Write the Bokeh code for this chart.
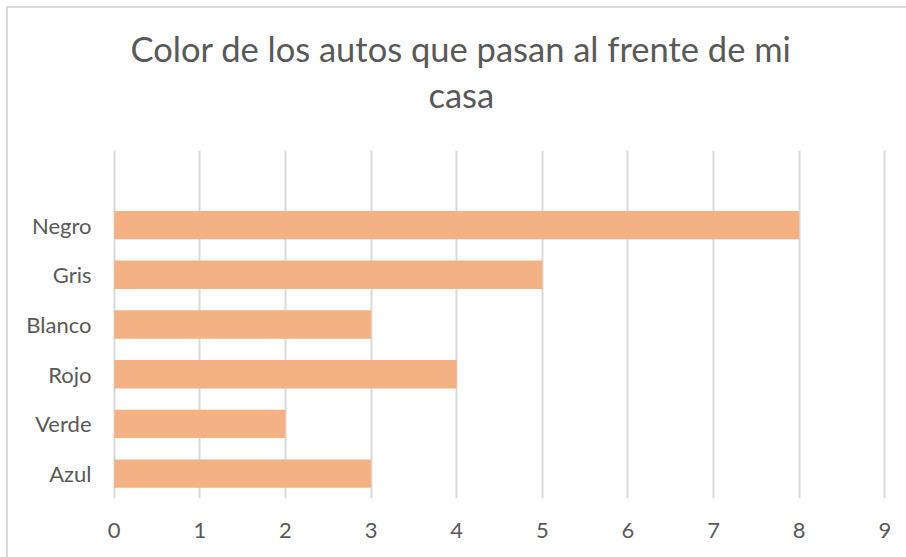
from bokeh.plotting import figure
from bokeh.models import Title, FixedTicker
from bokeh.embed import file_html
from bokeh.resources import INLINE

# Data (bottom to top)
categories = ["Azul", "Verde", "Rojo", "Blanco", "Gris", "Negro"]
values = [3, 2, 4, 3, 5, 8]
x_ticks = [0, 1, 2, 3, 4, 5, 6, 7, 8, 9]
title_lines = ["Color de los autos que pasan al frente de mi", "casa"]

positions = list(range(1, len(categories) + 1))

p = figure(width=900, height=551, output_backend="svg", toolbar_location=None,
           x_range=(-0.02, 9.02), y_range=(0.5, 7.5),
           min_border_left=104, min_border_right=22,
           min_border_top=142, min_border_bottom=61)
p.margin = (6, 0, 0, 6)
p.styles = {"border-top": "2px solid #d9d9d9", "border-left": "2px solid #d9d9d9"}

p.hbar(y=positions, right=values, left=0, height=0.57,
       fill_color="#F4B183", line_color=None)

p.outline_line_color = None
p.background_fill_color = "white"
p.border_fill_color = "white"

# grids
p.ygrid.grid_line_color = None
p.xgrid.ticker = FixedTicker(ticks=x_ticks)
p.xgrid.grid_line_color = "#d9d9d9"
p.xgrid.grid_line_width = 2

# x axis
p.xaxis.ticker = FixedTicker(ticks=x_ticks)
p.xaxis.axis_line_color = None
p.xaxis.major_tick_line_color = None
p.xaxis.minor_tick_line_color = None
p.xaxis.major_label_text_font = "Lato"
p.xaxis.major_label_text_font_size = "22px"
p.xaxis.major_label_text_color = "#595959"
p.xaxis.major_label_standoff = 18

# y axis
p.yaxis.ticker = FixedTicker(ticks=positions)
p.yaxis.major_label_overrides = {pos: c for pos, c in zip(positions, categories)}
p.yaxis.axis_line_color = None
p.yaxis.major_tick_line_color = None
p.yaxis.minor_tick_line_color = None
p.yaxis.major_label_text_font = "Lato"
p.yaxis.major_label_text_font_size = "22px"
p.yaxis.major_label_text_color = "#595959"
p.yaxis.major_label_standoff = 15

# two-line title (a blank spacer title keeps the gap above the plot area)
p.title = None
spacer = Title(text=" ", align="left", text_font="Lato", text_font_size="10px",
               standoff=22)
t2 = Title(text=title_lines[1], align="left", text_font="Lato",
           text_font_size="34.5px", text_font_style="normal",
           text_color="#595959", standoff=0, offset=316)
t1 = Title(text=title_lines[0], align="left", text_font="Lato",
           text_font_size="34.5px", text_font_style="normal",
           text_color="#595959", standoff=5, offset=18)
p.add_layout(spacer, "above")
p.add_layout(t2, "above")
p.add_layout(t1, "above")

open("out.html", "w").write(file_html(p, INLINE))
